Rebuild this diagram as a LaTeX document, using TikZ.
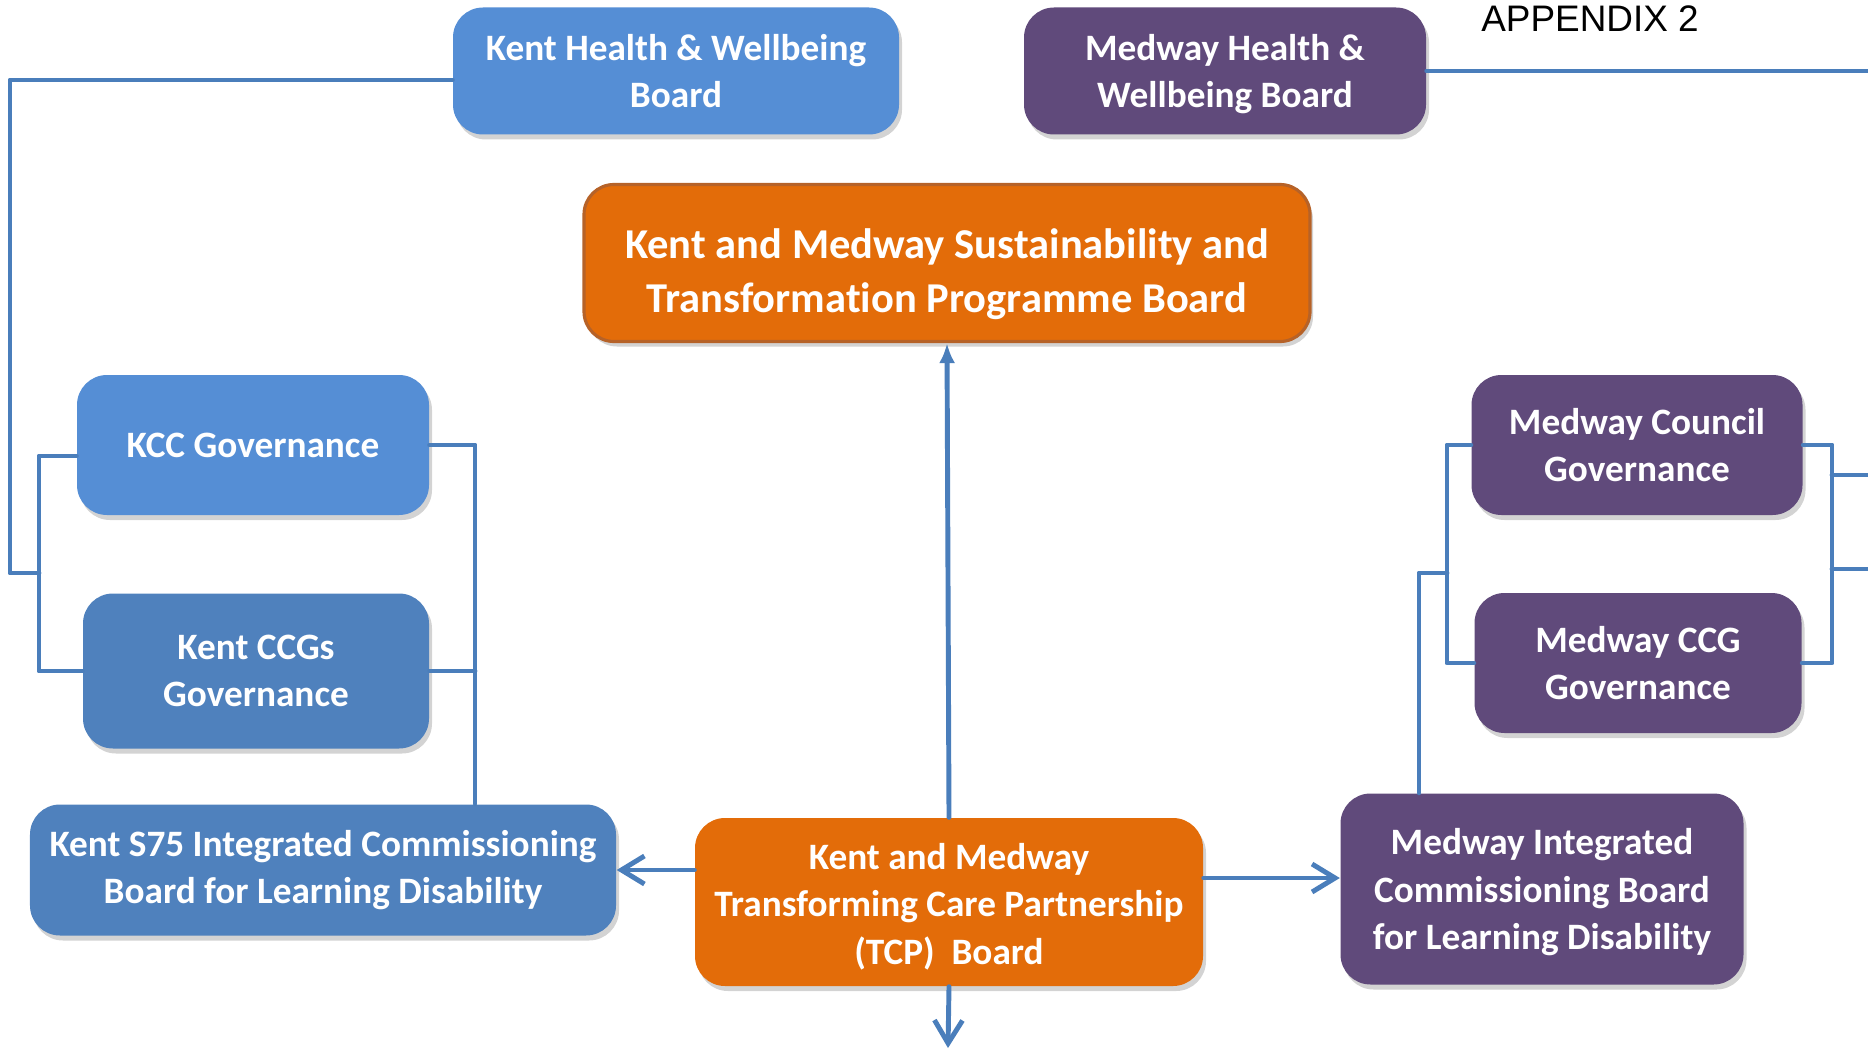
\documentclass[tikz,border=0pt]{standalone}
\usepackage{fontspec}
\setmainfont{Carlito}[Ligatures=NoCommon]
\newfontfamily\appxfont{Liberation Sans}
\usetikzlibrary{arrows.meta,shadows}
\definecolor{kentblue}{RGB}{85,142,213}
\definecolor{kentdark}{RGB}{79,129,189}
\definecolor{medpurple}{RGB}{96,74,123}
\definecolor{tcporange}{RGB}{227,108,9}
\definecolor{stpedge}{RGB}{182,98,40}
\definecolor{linkblue}{RGB}{74,126,187}
\newcommand{\nodepth}[1]{\raisebox{0pt}[\height][0pt]{#1}}
\begin{document}
\begin{tikzpicture}[line join=round, line cap=round, >=stealth,
 box/.style={rounded corners=0.3cm, text=white, align=center, inner sep=0pt,
  drop shadow={shadow xshift=0.03cm, shadow yshift=-0.05cm, opacity=0.35},
  font=\bfseries\fontsize{10.6}{13.5}\selectfont},
 kent/.style={box, fill=kentblue},
 kentd/.style={box, fill=kentdark},
 medway/.style={box, fill=medpurple},
 tcpbox/.style={box, fill=tcporange},
 conn/.style={draw=linkblue, line width=1.4pt},
 barb/.style={-{Straight Barb[length=2.3mm,width=2.8mm]}}]
 \useasboundingbox (0,0) rectangle (18.68,-10.51);
 \node[kent, minimum width=4.46cm, minimum height=1.27cm] (khwb) at (6.76,-0.71) {Kent Health \& Wellbeing\\Board};
 \node[medway, minimum width=4.02cm, minimum height=1.27cm] (mhwb) at (12.25,-0.71) {Medway Health \&\\\nodepth{Wellbeing Board}};
 \node (appx) at (15.90,-0.19) {\appxfont\fontsize{10.5}{12}\selectfont APPENDIX 2};
 \node[tcpbox, draw=stpedge, line width=0.9pt, minimum width=7.26cm, minimum height=1.57cm,
  font=\bfseries\fontsize{12.1}{15.2}\selectfont] (stp) at (9.47,-2.63) {\rule{0pt}{14.8pt}Kent and Medway Sustainability and\\Transformation Programme Board};
 \node[kent, minimum width=3.52cm, minimum height=1.40cm] (kcc) at (2.53,-4.45) {KCC Governance};
 \node[kentd, minimum width=3.46cm, minimum height=1.55cm] (kccg) at (2.56,-6.71) {Kent CCGs\\Governance};
 \node[kentd, minimum width=5.86cm, minimum height=1.31cm] (ks75) at (3.23,-8.70) {Kent S75 Integrated Commissioning\\Board for Learning Disability};
 \node[tcpbox, minimum width=5.08cm, minimum height=1.68cm] (tcp) at (9.49,-9.02) {\rule{0pt}{10pt}Kent and Medway\\Transforming Care Partnership\\(TCP)\ \ Board};
 \node[medway, minimum width=3.31cm, minimum height=1.40cm] (mcouncil) at (16.37,-4.45) {Medway Council\\Governance};
 \node[medway, minimum width=3.27cm, minimum height=1.40cm] (mccg) at (16.38,-6.63) {Medway CCG\\Governance};
 \node[medway, minimum width=4.03cm, minimum height=1.91cm] (micb) at (15.42,-8.89) {Medway Integrated\\Commissioning Board\\\nodepth{for Learning Disability}};
 \coordinate (kcorner) at (0.10,-5.73);
 \coordinate (kbrl) at (0.39,-5.73);
 \coordinate (kbrr) at (4.75,-6.71);
 \coordinate (mbrl) at (14.47,-5.73);
 \coordinate (mstub) at (14.19,-5.73);
 \coordinate (mbrr) at (18.32,-5.20);
 \coordinate (redge) at (18.68,-4.75);
 \coordinate (redge2) at (18.68,-5.69);
 \coordinate (tedge) at (18.68,-0.68);
 \coordinate (bedge) at (9.48,-10.48);
 \draw[conn] ([yshift=-0.09cm]khwb.west) -| (kcorner) -- (kbrl);
 \draw[conn] ([yshift=-0.11cm]kcc.west) -| (kbrl) |- (kccg.west);
 \draw[conn] (kcc.east) -| (kbrr) -- (kbrr |- ks75.north);
 \draw[conn] (kccg.east) -- (kbrr);
 \draw[conn] (mhwb.east) -- (mhwb.east -| tedge);
 \draw[conn] (mcouncil.west) -| (mbrl) |- (mccg.west);
 \draw[conn] (mbrl) -- (mstub) -- (mstub |- micb.north);
 \draw[conn] (mcouncil.east) -| (mbrr) |- (mccg.east);
 \draw[conn] (redge -| mbrr) -- (redge);
 \draw[conn] (redge2 -| mbrr) -- (redge2);
 \draw[conn,-{Latex[length=2mm,width=1.6mm]}] (tcp.north) -- (stp.south);
 \draw[conn,barb] (tcp.west |- ks75.east) -- (ks75.east);
 \draw[conn,barb] ([yshift=0.24cm]tcp.east) -- ([yshift=0.24cm]tcp.east -| micb.west);
 \draw[conn,barb] (tcp.south) -- (bedge);
\end{tikzpicture}
\end{document}
